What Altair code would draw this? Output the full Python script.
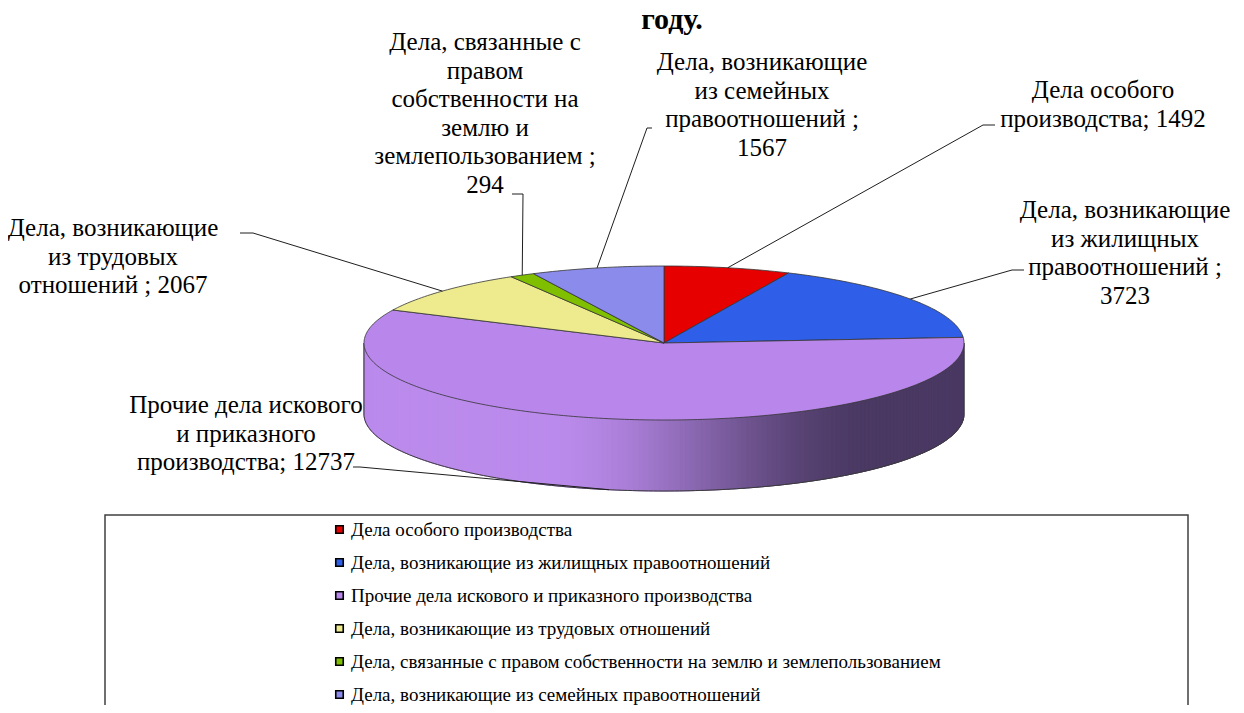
import math
import altair as alt
import numpy as np
import pandas as pd

# ---------------- data ----------------
title_text = "году."
categories = [
    "Дела особого производства",
    "Дела, возникающие из жилищных правоотношений",
    "Прочие дела искового и приказного производства",
    "Дела, возникающие из трудовых отношений",
    "Дела, связанные с правом собственности на землю и землепользованием",
    "Дела, возникающие из семейных правоотношений",
]
values = [1492, 3723, 12737, 2067, 294, 1567]
label_heads = [
    "Дела особого\nпроизводства; ",
    "Дела, возникающие\nиз жилищных\nправоотношений ;\n",
    "Прочие дела искового\nи приказного\nпроизводства; ",
    "Дела, возникающие\nиз трудовых\nотношений ; ",
    "Дела, связанные с\nправом\nсобственности на\nземлю и\nземлепользованием ;\n",
    "Дела, возникающие\nиз семейных\nправоотношений ;\n",
]

# ---------------- styles / layout (reference pixel space) ----------------
colors = ["#E60000", "#2F5FE8", "#B987EC", "#EDEB8E", "#80BE00", "#8B8BEB"]
CX, CY, RX, RY, DEPTH = 664, 343, 300, 77, 71
label_pos = [(1103, 98), (1125, 218), (246, 413), (113, 236), (485, 50), (762, 70)]
leader_stub = [
    [(995, 125), (983, 125)],
    [(1024, 270), (1012, 270)],
    [(353, 467), (360, 467)],
    [(240, 233), (253, 233)],
    [(512, 194), (523, 194)],
    [(652, 128), (647, 128)],
]
FONT = "Liberation Serif"
W, H = 1228, 697
PROJ = dict(type="identity", scale=1, translate=[-8, -8])


def P(t, dy=0.0):
    r = math.radians(t)
    return [CX + RX * math.sin(r), CY - RY * math.cos(r) + dy]


def feat(geom_type, coords, **props):
    return {"type": "Feature", "geometry": {"type": geom_type, "coordinates": coords}, "properties": props}


total = float(sum(values))
cum = np.concatenate([[0.0], np.cumsum(values)])
angles = [(360.0 * cum[i] / total, 360.0 * cum[i + 1] / total) for i in range(len(values))]

# top slices
slice_feats = []
for cat, (a0, a1) in zip(categories, angles):
    n = max(2, int(math.ceil(a1 - a0)))
    ring = [[CX, CY]] + [P(t) for t in np.linspace(a0, a1, n + 1)] + [[CX, CY]]
    slice_feats.append(feat("Polygon", [ring], cat=cat))

# cylinder side (front half), shaded overlapping strips
light = np.array([187, 139, 236])
dark = np.array([74, 57, 99])
side_feats = []
steps = np.arange(90, 270.001, 1.0)
for t0, t1 in zip(steps[:-1], steps[1:]):
    xm = CX + RX * math.sin(math.radians((t0 + t1) / 2))
    s = (xm - (CX - RX)) / (2 * RX)
    u = min(1.0, max(0.0, (s - 0.30) / 0.55))
    u = u * u * (3 - 2 * u)
    c = light + (dark - light) * u
    col = "#%02x%02x%02x" % tuple(int(round(v)) for v in c)
    te = min(270.0, t1 + 2.0)
    ts = np.linspace(t0, te, 4)
    ring = [P(t) for t in ts] + [P(t, DEPTH) for t in ts[::-1]] + [P(t0)]
    side_feats.append(feat("Polygon", [ring], c=col))

outline = [[CX - RX, CY]] + [P(t, DEPTH) for t in np.linspace(270, 90, 181)] + [[CX + RX, CY]]
outline_feats = [feat("LineString", outline)]

# leader lines to slice mid-angles
leader_feats = []
for (a0, a1), stub in zip(angles, leader_stub):
    m = (a0 + a1) / 2
    end = P(m, DEPTH if 90 < m < 270 else 0)
    leader_feats.append(feat("LineString", [list(p) for p in stub] + [end]))

# legend box (three visible sides)
box_feats = [feat("LineString", [[105, 730], [105, 515], [1188, 515], [1188, 730]])]

labels_df = pd.DataFrame({
    "lon": [p[0] for p in label_pos],
    "lat": [p[1] for p in label_pos],
    "text": [h + str(v) for h, v in zip(label_heads, values)],
})
title_df = pd.DataFrame({"lon": [672], "lat": [29], "text": [title_text]})

side = alt.Chart(alt.Data(values=side_feats)).mark_geoshape(strokeWidth=0.5).encode(
    fill=alt.Fill("properties.c:N", scale=None, legend=None),
    stroke=alt.Stroke("properties.c:N", scale=None, legend=None),
).project(**PROJ)

side_outline = alt.Chart(alt.Data(values=outline_feats)).mark_geoshape(
    filled=False, fill="transparent", stroke="#3a3a3a", strokeWidth=1
).project(**PROJ)

slices = alt.Chart(alt.Data(values=slice_feats)).mark_geoshape(stroke="#333333", strokeWidth=0.8).encode(
    color=alt.Color(
        "properties.cat:N",
        scale=alt.Scale(domain=categories, range=colors),
        legend=alt.Legend(
            orient="none", legendX=322, legendY=512, title=None, direction="vertical",
            symbolType="square", symbolSize=56, symbolStrokeColor="black", symbolStrokeWidth=1.6,
            labelFont=FONT, labelFontSize=19, labelColor="black", labelLimit=0, labelOffset=2,
            rowPadding=13, padding=0,
        ),
    )
).project(**PROJ)

leaders = alt.Chart(alt.Data(values=leader_feats)).mark_geoshape(
    filled=False, fill="transparent", stroke="#1e1e1e", strokeWidth=1
).project(**PROJ)

box = alt.Chart(alt.Data(values=box_feats)).mark_geoshape(
    filled=False, fill="transparent", stroke="#404040", strokeWidth=1.5
).project(**PROJ)

labels = alt.Chart(labels_df).mark_text(
    font=FONT, fontSize=25, lineBreak="\n", lineHeight=28.5, align="center", baseline="alphabetic", color="black"
).encode(longitude="lon:Q", latitude="lat:Q", text="text:N").project(**PROJ)

title = alt.Chart(title_df).mark_text(
    font=FONT, fontSize=30, fontWeight="bold", align="center", baseline="alphabetic", color="black"
).encode(longitude="lon:Q", latitude="lat:Q", text="text:N").project(**PROJ)

chart = alt.layer(side, side_outline, slices, leaders, box, labels, title).properties(
    width=W, height=H, autosize=alt.AutoSizeParams(type="none"), padding=0, background="white"
).configure_view(stroke=None)

chart.save("out.html", embed_options={"renderer": "svg", "actions": False})
